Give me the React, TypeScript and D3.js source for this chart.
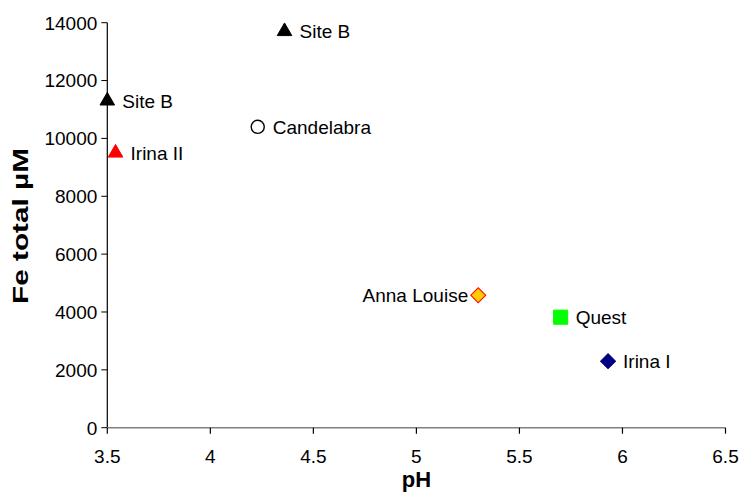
import React from "react";
import * as d3 from "d3";

const siteNames = ["Site B", "Site B", "Irina II", "Candelabra", "Anna Louise", "Quest", "Irina I"];
const phValues = [4.36, 3.5, 3.54, 4.23, 5.3, 5.7, 5.93];
const feValues = [13700, 11300, 9500, 10400, 4580, 3820, 2300];
const markerShapes = ["triangle", "triangle", "triangle", "circle", "diamond", "square", "diamond"];
const markerFills = ["#000000", "#000000", "#FF0000", "#FFFFFF", "#FFCC00", "#00FF00", "#000080"];
const markerStrokes = ["#000000", "#000000", "#FF0000", "#000000", "#FF0000", "#00FF00", "#000080"];
const labelSides = ["right", "right", "right", "right", "left", "right", "right"];
const xTicks = [3.5, 4, 4.5, 5, 5.5, 6, 6.5];
const yTicks = [0, 2000, 4000, 6000, 8000, 10000, 12000, 14000];

const W = 741;
const H = 494;
const left = 107.3;
const right = 725.5;
const top = 22.7;
const bottom = 427.7;

export default function App() {
  const x = d3.scaleLinear().domain([3.5, 6.5]).range([left, right]);
  const y = d3.scaleLinear().domain([0, 14000]).range([bottom, top]);
  const font = "Arial, 'Liberation Sans', sans-serif";

  const symbolFor = (s: string) => {
    if (s === "triangle") return d3.symbol().type(d3.symbolTriangle).size(92)();
    if (s === "circle") return d3.symbol().type(d3.symbolCircle).size(135)();
    if (s === "square") return d3.symbol().type(d3.symbolSquare).size(200)();
    return d3.symbol().type(d3.symbolSquare).size(112)();
  };

  return (
    <svg width={W} height={H} style={{ position: "absolute", left: 0, top: 0, background: "#fff" }}>
      {/* y axis */}
      <line x1={left} x2={left} y1={top} y2={bottom} stroke="#000" strokeWidth={1.2} />
      {yTicks.map((t) => (
        <g key={"y" + t}>
          <line x1={left - 6} x2={left} y1={y(t)} y2={y(t)} stroke="#000" strokeWidth={1} />
          <text x={left - 10} y={y(t)} dy="0.36em" textAnchor="end" fontFamily={font} fontSize={19} fill="#000">
            {t}
          </text>
        </g>
      ))}
      {/* x axis */}
      <line x1={left} x2={right} y1={bottom} y2={bottom} stroke="#808080" strokeWidth={1.5} />
      {xTicks.map((t) => (
        <g key={"x" + t}>
          <line x1={x(t)} x2={x(t)} y1={bottom} y2={bottom + 6} stroke="#000" strokeWidth={1.2} />
          <text x={x(t)} y={bottom + 35} textAnchor="middle" fontFamily={font} fontSize={19} fill="#000">
            {t}
          </text>
        </g>
      ))}
      <text x={(left + right) / 2} y={487} textAnchor="middle" fontFamily={font} fontSize={22} fontWeight="bold">
        pH
      </text>
      <text
        transform={`translate(28, ${226}) rotate(-90)`}
        textAnchor="middle"
        fontFamily={font}
        fontSize={22}
        fontWeight="bold"
        textLength={156}
        lengthAdjust="spacingAndGlyphs"
      >
        Fe total µM
      </text>
      {siteNames.map((name, i) => {
        const cx = x(phValues[i]);
        const cy = y(feValues[i]);
        const rightSide = labelSides[i] === "right";
        const rot = markerShapes[i] === "diamond" ? " rotate(45)" : "";
        return (
          <g key={"p" + i}>
            <path
              d={symbolFor(markerShapes[i]) as string}
              transform={`translate(${cx},${cy})${rot}`}
              fill={markerFills[i]}
              stroke={markerStrokes[i]}
              strokeWidth={markerShapes[i] === "circle" ? 1.4 : 1}
            />
            <text
              x={rightSide ? cx + 15 : cx - 10}
              y={cy}
              dy="0.36em"
              textAnchor={rightSide ? "start" : "end"}
              fontFamily={font}
              fontSize={19}
              fill="#000"
            >
              {name}
            </text>
          </g>
        );
      })}
    </svg>
  );
}
